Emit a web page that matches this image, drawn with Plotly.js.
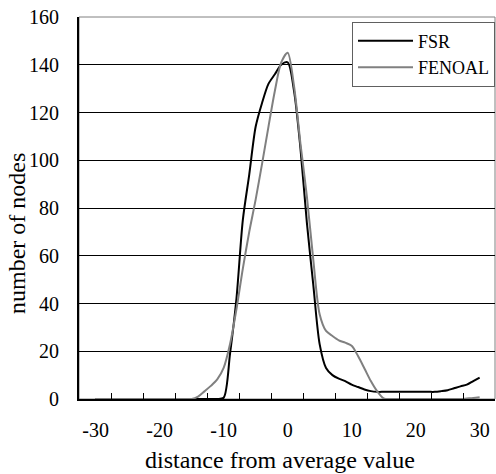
<!DOCTYPE html>
<html>
<head>
<meta charset="utf-8">
<script src="https://cdn.plot.ly/plotly-3.0.1.min.js"></script>
<style>html,body{margin:0;padding:0;background:#fff;}#chart{width:496px;height:474px;}</style>
</head>
<body>
<div id="chart"></div>
<script>
// distance from average value (categories)
const distance = [-30,-29,-28,-27,-26,-25,-24,-23,-22,-21,-20,-19,-18,-17,-16,-15,-14,-13,-12,-11,
  -10,-9,-8,-7,-6,-5,-4,-3,-2,-1,0,1,2,3,4,5,6,7,8,9,10,
  11,12,13,14,15,16,17,18,19,20,21,22,23,24,25,26,27,28,29,30];

// number of nodes, FSR
const fsr = [0,0,0,0,0,0,0,0,0,0,0,0,0,0,0,0,0,0,0,0,
  0.5,19,42,75,94,114,124,132,136,140,141,129,105,74,48,23,13,10,8.5,7.5,6,
  5,4,3.3,3,3,3,3,3,3,3,3,3,3,3.3,3.7,4.5,5.3,6,7.5,9];

// number of nodes, FENOAL
const fenoal = [0,0,0,0,0,0,0,0,0,0,0,0,0,0,0,0,1,3.2,5.5,8.2,
  13,23,37.6,54.6,70,83.5,98.5,114,129,141,145,131,107,85,58.5,35.5,28.5,26.4,24.6,23.6,22.3,
  18,12.8,7.5,3.2,0.3,0,0,0,0,0,0,0,0,0,0,0,0,0.2,0.4,0.7];

const xTickVals = [-30,-20,-10,0,10,20,30];
const xTickLabels = ['-30','-20','-10','0','10','20','30'];
const xMinorTicks = [-27.5,-22.5,-17.5,-12.5,-7.5,-2.5,2.5,7.5,12.5,17.5,22.5,27.5];
const seriesNames = ['FSR','FENOAL'];

const serif = '"Liberation Serif", "Times New Roman", Times, serif';
const xRange = [-32.6, 32.4];

const traces = [
  {x: distance, y: fsr, name: seriesNames[0], type: 'scatter', mode: 'lines', legendgroup: 'a',
   line: {color: '#000000', width: 2, shape: 'spline', smoothing: 0.8}},
  {x: distance, y: fenoal, name: seriesNames[1], type: 'scatter', mode: 'lines', legendgroup: 'b',
   line: {color: '#808080', width: 2, shape: 'spline', smoothing: 0.8}}
];

const layout = {
  width: 496, height: 474,
  margin: {l: 79, r: 1, t: 17, b: 75, pad: 0},
  paper_bgcolor: '#ffffff', plot_bgcolor: '#ffffff',
  showlegend: true,
  font: {family: serif, color: '#000'},
  xaxis: {
    range: xRange, tickmode: 'array', tickvals: xTickVals, ticktext: xTickLabels,
    ticks: 'outside', ticklen: 12, tickcolor: 'rgba(0,0,0,0)', showgrid: false, zeroline: false,
    showline: true, linecolor: '#000', linewidth: 2,
    tickfont: {family: serif, size: 20, color: '#000'},
    minor: {ticks: 'inside', tickvals: xMinorTicks, ticklen: 6, tickwidth: 1, tickcolor: '#000', showgrid: false}
  },
  yaxis: {
    range: [0, 160], tickmode: 'linear', tick0: 0, dtick: 20,
    ticks: '', showgrid: true, gridcolor: '#000', gridwidth: 1, zeroline: false,
    showline: true, linecolor: '#000', linewidth: 2,
    tickfont: {family: serif, size: 20, color: '#000'},
    ticklabelstandoff: 14
  },
  legend: {
    x: 1, xanchor: 'right', y: 0.988, yanchor: 'top',
    bgcolor: '#ffffff', bordercolor: '#606060', borderwidth: 1,
    font: {family: serif, size: 18, color: '#000'},
    tracegroupgap: 0, itemwidth: 55
  },
  shapes: [
    {type: 'rect', xref: 'paper', yref: 'paper', x0: 0, x1: 1, y0: 0, y1: 1,
     line: {color: '#808080', width: 1}, layer: 'below'}
  ],
  annotations: [
    {text: 'number of nodes', xref: 'paper', yref: 'paper', x: -0.149, y: 0.432,
     textangle: -90, showarrow: false, xanchor: 'center', yanchor: 'middle',
     font: {family: serif, size: 24, color: '#000'}},
    {text: 'distance from average value', xref: 'paper', yref: 'paper', x: 0.483, y: -0.16,
     showarrow: false, xanchor: 'center', yanchor: 'middle',
     font: {family: serif, size: 24, color: '#000'}}
  ]
};

Plotly.newPlot('chart', traces, layout, {displayModeBar: false, staticPlot: true});
</script>
</body>
</html>
